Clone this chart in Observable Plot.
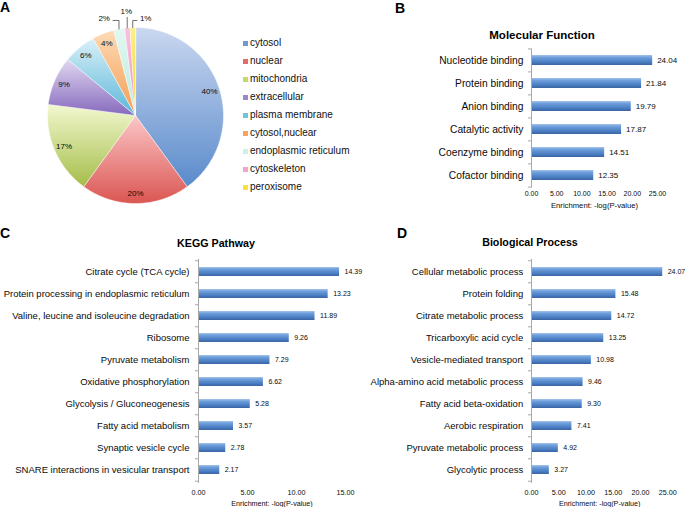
<!DOCTYPE html>
<html><head><meta charset="utf-8">
<script src="https://cdn.jsdelivr.net/npm/d3@7"></script>
<script src="https://cdn.jsdelivr.net/npm/@observablehq/plot@0.6"></script>
<style>
body{margin:0;background:#fff;font-family:"Liberation Sans",Helvetica,Arial,sans-serif;color:#000;}
#fig{position:relative;width:685px;height:507px;overflow:hidden;background:#fff;}
.lab{position:absolute;white-space:nowrap;transform:translate(-50%,-50%);line-height:1;}
.letter{font-weight:bold;font-size:14px;}
.ptitle{font-weight:bold;}
.leg{position:absolute;font-size:10px;white-space:nowrap;line-height:1;color:#111;}
.leg .sw{position:absolute;width:5px;height:5px;}
</style></head><body><div id="fig"></div>
<script>
// ---------- data ----------
const pieCategories = ["cytosol","nuclear","mitochondria","extracellular","plasma membrane","cytosol,nuclear","endoplasmic reticulum","cytoskeleton","peroxisome"];
const piePercents = [40,20,17,9,6,4,2,1,1];

const mfTerms = ["Nucleotide binding","Protein binding","Anion binding","Catalytic activity","Coenzyme binding","Cofactor binding"];
const mfValues = [24.04,21.84,19.79,17.87,14.51,12.35];
const mfTicks = [0,5,10,15,20,25];

const keggTerms = ["Citrate cycle (TCA cycle)","Protein processing in endoplasmic reticulum","Valine, leucine and isoleucine degradation","Ribosome","Pyruvate metabolism","Oxidative phosphorylation","Glycolysis / Gluconeogenesis","Fatty acid metabolism","Synaptic vesicle cycle","SNARE interactions in vesicular transport"];
const keggValues = [14.39,13.23,11.89,9.26,7.29,6.62,5.28,3.57,2.78,2.17];
const keggTicks = [0,5,10,15];

const bpTerms = ["Cellular metabolic process","Protein folding","Citrate metabolic process","Tricarboxylic acid cycle","Vesicle-mediated transport","Alpha-amino acid metabolic process","Fatty acid beta-oxidation","Aerobic respiration","Pyruvate metabolic process","Glycolytic process"];
const bpValues = [24.07,15.48,14.72,13.25,10.98,9.46,9.30,7.41,4.92,3.27];
const bpTicks = [0,5,10,15,20,25];

const axisTitle = "Enrichment: -log(P-value)";
const panelTitles = ["Molecular Function","KEGG Pathway","Biological Process"];
const panelLetters = ["A","B","C","D"];

// ---------- styles ----------
const FONT = '"Liberation Sans", Helvetica, Arial, sans-serif';
const TXT = "#0a0a0a";
const pieTop = ["#cad7f0","#fcc6c8","#f2f8cf","#e0d7f0","#d8f0f9","#fddbb6","#e3f8f2","#f8c3dc","#faf08a"];
const pieBottom = ["#5a8bcb","#da5652","#a5bd49","#8669bd","#5cb6d8","#f39c52","#b9e9dc","#ee8cbd","#f1d625"];
const pieSwatch = ["#6f99d2","#e26b68","#c4d86c","#9c86ca","#70c4e1","#f6a65c","#c9f1e6","#f3a2c9","#f6e144"];

const fig = document.getElementById("fig");
const NS = "http://www.w3.org/2000/svg";

// gradients (shared)
const defsSvg = document.createElementNS(NS,"svg");
defsSvg.setAttribute("width","0"); defsSvg.setAttribute("height","0");
defsSvg.style.position = "absolute";
const defs = document.createElementNS(NS,"defs");
defsSvg.appendChild(defs);
function addGrad(id, stops){
  const g = document.createElementNS(NS,"linearGradient");
  g.setAttribute("id",id); g.setAttribute("x1","0"); g.setAttribute("y1","0"); g.setAttribute("x2","0"); g.setAttribute("y2","1");
  for(const [o,c] of stops){ const s=document.createElementNS(NS,"stop"); s.setAttribute("offset",o); s.setAttribute("stop-color",c); g.appendChild(s); }
  defs.appendChild(g);
}
addGrad("barGrad",[[0,"#a3c2ea"],[0.25,"#6e9edb"],[0.7,"#4a7ec2"],[1,"#3a64a3"]]);
pieCategories.forEach((c,i)=>addGrad("pie"+i,[[0,pieTop[i]],[1,pieBottom[i]]]));
fig.appendChild(defsSvg);

function place(node,left,top){ node.style.position="absolute"; node.style.left=left+"px"; node.style.top=top+"px"; fig.appendChild(node); }
function label(text,x,y,cls,size){ const d=document.createElement("div"); d.className="lab "+cls; d.textContent=text; d.style.left=x+"px"; d.style.top=y+"px"; if(size) d.style.fontSize=size+"px"; fig.appendChild(d); }

// ---------- Panel A: pie ----------
{
  const W=240,H=215,cx=135,cy=115,R=88;
  const total = d3.sum(piePercents);
  let acc=0;
  const slices = pieCategories.map((name,i)=>{
    const a0 = acc/total*2*Math.PI; acc += piePercents[i];
    const a1 = acc/total*2*Math.PI;
    return {name,i,pct:piePercents[i],a0,a1,mid:(a0+a1)/2};
  });
  const pts = slices.flatMap(s=>{
    const m = Math.max(2, Math.ceil((s.a1-s.a0)*180/Math.PI));
    const p=[{i:s.i,x:0,y:0}];
    for(let k=0;k<=m;k++){ const a=s.a0+(s.a1-s.a0)*k/m; p.push({i:s.i,x:Math.sin(a),y:Math.cos(a)}); }
    return p;
  });
  const inner = slices.filter(s=>s.pct>=3);
  const small = slices.filter(s=>s.pct<3).map((s,j)=>{
    const lx = 1.1*Math.sin(s.mid)+(j-1)*0.15;
    const ly = j===1?1.18:1.10;
    return {...s,j,lx,ly};
  });
  const leaders = small.flatMap(s=>{
    const ex=Math.sin(s.mid), ey=Math.cos(s.mid);
    const dir = s.lx-ex;
    if(Math.abs(dir)<0.05) return [{j:s.j,x:ex,y:ey},{j:s.j,x:ex,y:s.ly-0.065}];
    return [{j:s.j,x:ex,y:ey},{j:s.j,x:ex,y:s.ly-0.02},{j:s.j,x:s.lx-Math.sign(dir)*0.1,y:s.ly-0.02}];
  });
  const svg = Plot.plot({
    width:W,height:H,margin:0,
    style:{background:"transparent",overflow:"visible",fontFamily:FONT,color:TXT},
    x:{domain:[-cx/R,(W-cx)/R],axis:null},
    y:{domain:[-(H-cy)/R,cy/R],axis:null},
    color:{type:"identity"},
    marks:[
      Plot.line(pts,{x:"x",y:"y",z:"i",fill:d=>`url(#pie${d.i})`,stroke:"#ffffff",strokeWidth:0.5,curve:"linear-closed"}),
      Plot.text(inner,{x:s=>0.885*Math.sin(s.mid),y:s=>0.885*Math.cos(s.mid),text:s=>s.pct+"%",fontSize:8,fill:TXT}),
      Plot.line(leaders,{x:"x",y:"y",z:"j",stroke:"#333",strokeWidth:0.7}),
      Plot.text(small,{x:"lx",y:"ly",text:s=>s.pct+"%",fontSize:8,fill:TXT})
    ]
  });
  place(svg,0,0);
  // legend
  pieCategories.forEach((c,i)=>{
    const d=document.createElement("div"); d.className="leg";
    d.style.left="250px"; d.style.top=(43+i*18.05-5.5)+"px";
    d.textContent=c;
    const sw=document.createElement("span"); sw.className="sw"; sw.style.background=pieSwatch[i]; sw.style.left="-7.5px"; sw.style.top="3.5px";
    d.appendChild(sw);
    fig.appendChild(d);
  });
}

// ---------- bar panels ----------
function barPanel(o){
  const data = o.terms.map((t,i)=>({term:t,value:o.values[i]}));
  const n = o.terms.length;
  const step = (o.height-o.mt-o.mb)/n;
  const svg = Plot.plot({
    width:o.width,height:o.height,marginLeft:o.ml,marginRight:o.mr,marginTop:o.mt,marginBottom:o.mb,
    style:{background:"transparent",overflow:"visible",fontFamily:FONT,color:TXT},
    x:{domain:[0,o.max]},
    y:{domain:o.terms,paddingInner:o.pad,paddingOuter:o.pad/2},
    marks:[
      Plot.barX(data,{x:"value",y:"term",fill:"url(#barGrad)"}),
      Plot.ruleX([0],{stroke:"#a8a8a8",strokeWidth:1}),
      Plot.ruleY(o.terms,{y:d=>d,x1:()=>0,x2:()=>0,insetLeft:-3,dy:-step/2,stroke:"#a8a8a8"}),
      Plot.ruleY([o.terms[n-1]],{y:d=>d,x1:()=>0,x2:()=>0,insetLeft:-3,dy:step/2,stroke:"#a8a8a8"}),
      Plot.axisY({tickSize:0,tickPadding:o.ypad,fontSize:o.yfs,label:null,fill:TXT}),
      Plot.axisX({ticks:o.ticks,tickFormat:d3.format(".2f"),tickSize:0,tickPadding:o.xpad,fontSize:o.xfs,label:null,fill:TXT}),
      Plot.text([axisTitle],{frameAnchor:"bottom",dy:o.tdy,fontSize:o.tfs,lineAnchor:"middle",fill:TXT}),
      Plot.text(data,{x:"value",y:"term",text:d=>d.value.toFixed(2),textAnchor:"start",dx:o.vdx,fontSize:o.vfs,fill:TXT})
    ]
  });
  place(svg,o.left,o.top);
}

barPanel({terms:mfTerms,values:mfValues,ticks:mfTicks,max:25,left:340,top:40,width:345,height:175,ml:191,mr:28,mt:8.4,mb:27.4,pad:0.55,ypad:8,yfs:10.25,xpad:3.4,xfs:7,tdy:17.4,tfs:7.7,vdx:4.5,vfs:8});
barPanel({terms:keggTerms,values:keggValues,ticks:keggTicks,max:15,left:0,top:250,width:360,height:257,ml:198,mr:15,mt:8.8,mb:24.1,pad:0.6,ypad:9,yfs:9.5,xpad:6.2,xfs:7.2,tdy:20,tfs:7.2,vdx:5,vfs:7});
barPanel({terms:bpTerms,values:bpValues,ticks:bpTicks,max:25,left:350,top:250,width:335,height:257,ml:181,mr:17.7,mt:8.8,mb:24.1,pad:0.6,ypad:8.3,yfs:9.5,xpad:6.2,xfs:7.2,tdy:20,tfs:7.2,vdx:5,vfs:7});

// titles & letters
label(panelTitles[0],542,36,"ptitle",11.5);
label(panelTitles[1],216,243,"ptitle",10.7);
label(panelTitles[2],530,242,"ptitle",10.7);
label(panelLetters[0],5,7,"letter");
label(panelLetters[1],400,7.5,"letter");
label(panelLetters[2],5,233,"letter");
label(panelLetters[3],402,233,"letter");
</script>
</body></html>
